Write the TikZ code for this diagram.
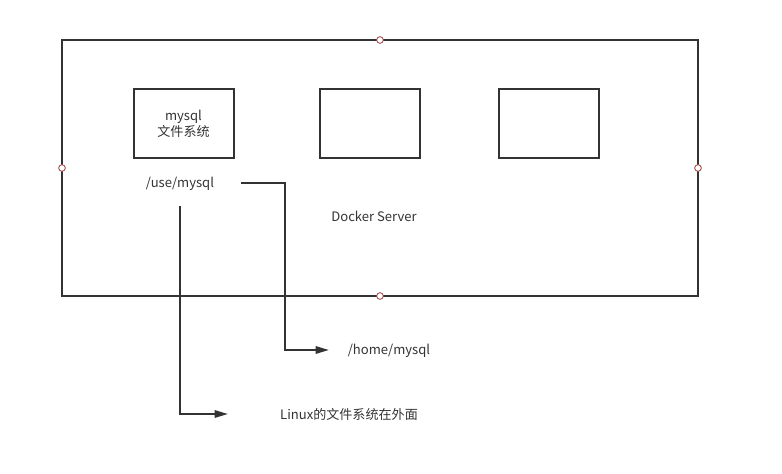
\documentclass[tikz,border=0pt]{standalone}
\usepackage{fontspec}
\setmainfont{Noto Sans CJK SC}
\usetikzlibrary{positioning}
\usetikzlibrary{arrows.meta}
\definecolor{linegray}{HTML}{333333}
\definecolor{handle}{HTML}{A33A3A}

\begin{document}
\begin{tikzpicture}[x=0.75pt,y=-0.75pt,
  every node/.style={text=linegray,font=\fontsize{9.8}{12}\selectfont},
  frame/.style={draw=linegray,line width=1.5pt},
  box/.style={draw=linegray,line width=1.5pt,minimum width=75pt,minimum height=51.75pt,inner sep=0pt,align=center},
  dot/.style={circle,draw=handle,fill=white,line width=0.6pt,minimum size=5pt,inner sep=0pt},
  conn/.style={draw=linegray,line width=1.5pt,-{Triangle[length=10pt,width=5.5pt]}}]
 \useasboundingbox (0,0) rectangle (782,474);
 % server frame
 \draw[frame] (62,40) rectangle (698,296);
 \node[dot] (top) at (380,40) {};
 \node[dot] (left) at (62,168) {};
 \node[dot] (right) at (698,168) {};
 \node[dot] (bottom) at (380,296) {};
 % containers
 \node[box] (mysqlbox) at (183.5,123.5) {mysql\\文件系统};
 \node[box] (boxb) at (369.5,123.5) {};
 \node[box] (boxc) at (549,123.5) {};
 \node (usepath) at (180,184) {/use/mysql};
 \node (server) at (374,216) {Docker Server};
 % outside
 \node (homepath) at (389,351) {/home/mysql};
 \node (linuxfs) at (349,414) {Linux的文件系统在外面};
 \coordinate (homeend) at (329,350);
 \coordinate (linuxend) at (228,414);
 \draw[conn] ([xshift=17pt,yshift=0.6pt]usepath.east) -| (285,350) -- (homeend);
 \draw[conn] ([yshift=-8pt]usepath.south) |- (linuxend);
\end{tikzpicture}
\end{document}
